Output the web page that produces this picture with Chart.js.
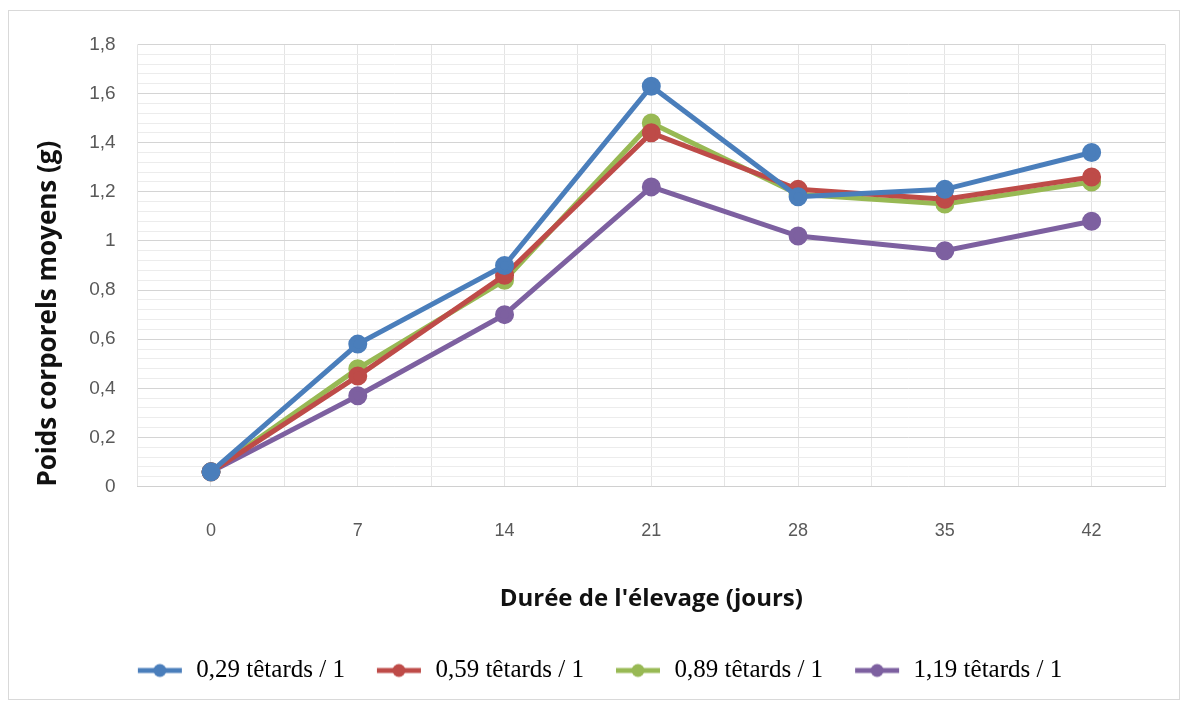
<!DOCTYPE html>
<html>
<head>
<meta charset="utf-8">
<script src="https://cdn.jsdelivr.net/npm/chart.js@4"></script>
<style>
  body { margin: 0; background: #fff; }
  #box { position: absolute; left: 8px; top: 10px; width: 1172px; height: 690px; border: 1px solid #d9d9d9; box-sizing: border-box; }
</style>
</head>
<body>
<div id="box"><canvas id="myChart"></canvas></div>
<script>
var days = [0, 7, 14, 21, 28, 35, 42];
var seriesNames = ["0,29 têtards / 1", "0,59 têtards / 1", "0,89 têtards / 1", "1,19 têtards / 1"];
var d029 = [0.06, 0.58, 0.90, 1.63, 1.18, 1.21, 1.36];
var d059 = [0.06, 0.45, 0.86, 1.44, 1.21, 1.17, 1.26];
var d089 = [0.06, 0.48, 0.84, 1.48, 1.19, 1.15, 1.24];
var d119 = [0.06, 0.37, 0.70, 1.22, 1.02, 0.96, 1.08];
var lineColors = ["#4a7ebb", "#be4b48", "#98b954", "#7d60a0"];

function pts(vals) {
  return vals.map(function (v, i) { return { x: days[i], y: v }; });
}

function legendIcon(color) {
  var c = document.createElement("canvas");
  c.width = 48; c.height = 16;
  var g = c.getContext("2d");
  g.strokeStyle = color; g.lineWidth = 5;
  g.beginPath(); g.moveTo(2, 8); g.lineTo(46, 8); g.stroke();
  g.fillStyle = color;
  g.beginPath(); g.arc(24, 8, 6.5, 0, Math.PI * 2); g.fill();
  return c;
}

var allData = [d029, d059, d089, d119];
var datasets = allData.map(function (vals, i) {
  return {
    label: seriesNames[i],
    data: pts(vals),
    borderColor: lineColors[i],
    backgroundColor: lineColors[i],
    borderWidth: 5,
    pointRadius: 7,
    pointHoverRadius: 7,
    tension: 0
  };
});
var icons = lineColors.map(legendIcon);

function comma(v) {
  return String(Math.round(v * 10) / 10).replace(".", ",");
}

var tickFont = { family: '"Liberation Sans Narrow", "Liberation Sans", sans-serif', size: 19 };

new Chart("myChart", {
  type: "line",
  data: { datasets: datasets },
  options: {
    responsive: true,
    maintainAspectRatio: false,
    animation: false,
    layout: { padding: { left: 24, right: 14, top: 24, bottom: 6 } },
    scales: {
      x: {
        type: "linear",
        min: -3.5,
        max: 45.5,
        grid: { color: "#e4e4e4", lineWidth: 1, drawTicks: true, tickLength: 28, tickColor: "rgba(0,0,0,0)" },
        border: { color: "#d0d0d0" },
        ticks: {
          stepSize: 3.5,
          padding: 6,
          color: "#595959",
          font: { family: tickFont.family, size: 18 },
          callback: function (v) { return (Math.abs(v % 7) < 0.01) ? String(v) : ""; }
        },
        title: {
          display: true,
          text: "Durée de l'élevage (jours)",
          color: "#111",
          font: { family: '"Open Sans", sans-serif', size: 24, weight: "bold" },
          padding: { top: 37, bottom: 14 }
        }
      },
      y: {
        min: 0,
        max: 1.8,
        grid: {
          drawTicks: false,
          color: function (ctx) {
            var v = ctx.tick.value;
            return Math.abs(Math.round(v / 0.2) * 0.2 - v) < 0.001 ? "#d4d4d4" : "#ececec";
          }
        },
        border: { display: false },
        ticks: {
          stepSize: 0.04,
          autoSkip: false,
          padding: 22,
          color: "#595959",
          font: tickFont,
          callback: function (v) {
            return Math.abs(Math.round(v / 0.2) * 0.2 - v) < 0.001 ? comma(v) : "";
          }
        },
        title: {
          display: true,
          text: "Poids corporels moyens (g)",
          align: "start",
          color: "#111",
          font: { family: '"Open Sans", sans-serif', size: 26, weight: "bold" },
          padding: { top: 0, bottom: 3 }
        }
      }
    },
    plugins: {
      tooltip: { enabled: false },
      legend: {
        position: "bottom",
        labels: {
          usePointStyle: true,
          pointStyleWidth: 48,
          padding: 30,
          color: "#000",
          font: { family: '"Liberation Serif", serif', size: 25 },
          generateLabels: function (chart) {
            return chart.data.datasets.map(function (ds, i) {
              return {
                text: ds.label,
                pointStyle: icons[i],
                fillStyle: ds.borderColor,
                strokeStyle: ds.borderColor,
                lineWidth: 0,
                datasetIndex: i
              };
            });
          }
        }
      }
    }
  }
});
</script>
</body>
</html>
